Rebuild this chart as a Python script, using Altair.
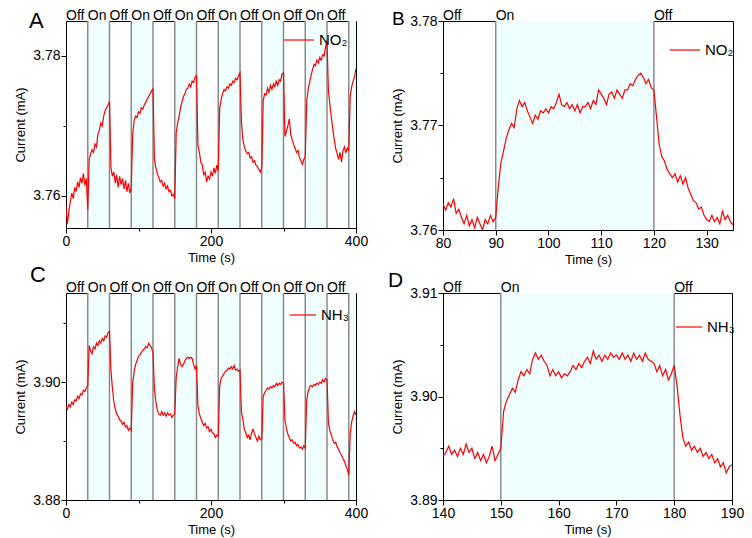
import altair as alt
import pandas as pd
import numpy as np

FONT = "Liberation Sans"
RED = "#ff0000"
SHADE = "#effefe"
GREY = "#8a8a8a"

# ---------------- Panel A: NO2, 0-400 s, every 2 s ----------------
a_off0 = [3.7585, 3.7560, 3.7578, 3.7592, 3.7604, 3.7596, 3.7612, 3.7606, 3.7620, 3.7612, 3.7626, 3.7618, 3.7632, 3.7615, 3.7625]
a_on1 = [3.7580, 3.7652, 3.7660, 3.7666, 3.7662, 3.7674, 3.7670, 3.7688, 3.7694, 3.7704, 3.7700, 3.7714, 3.7722, 3.7726, 3.7730]
a_off1 = [3.7735, 3.7640, 3.7628, 3.7634, 3.7618, 3.7630, 3.7612, 3.7628, 3.7616, 3.7625, 3.7610, 3.7622, 3.7606, 3.7618, 3.7604]
a_on2 = [3.7612, 3.7688, 3.7708, 3.7714, 3.7712, 3.7720, 3.7718, 3.7726, 3.7724, 3.7730, 3.7734, 3.7738, 3.7742, 3.7746, 3.7750]
a_off2 = [3.7753, 3.7652, 3.7640, 3.7632, 3.7626, 3.7620, 3.7622, 3.7614, 3.7618, 3.7610, 3.7614, 3.7606, 3.7608, 3.7600, 3.7602]
a_on3 = [3.7596, 3.7690, 3.7704, 3.7714, 3.7726, 3.7734, 3.7742, 3.7746, 3.7752, 3.7754, 3.7760, 3.7756, 3.7764, 3.7762, 3.7770]
a_off3 = [3.7772, 3.7672, 3.7662, 3.7648, 3.7644, 3.7630, 3.7634, 3.7620, 3.7628, 3.7624, 3.7634, 3.7628, 3.7640, 3.7632, 3.7644]
a_on4 = [3.7636, 3.7725, 3.7738, 3.7746, 3.7752, 3.7750, 3.7756, 3.7754, 3.7760, 3.7758, 3.7764, 3.7762, 3.7768, 3.7766, 3.7772]
a_off4 = [3.7776, 3.7705, 3.7680, 3.7670, 3.7664, 3.7660, 3.7662, 3.7654, 3.7656, 3.7648, 3.7650, 3.7644, 3.7642, 3.7638, 3.7634]
a_on5 = [3.7640, 3.7736, 3.7746, 3.7744, 3.7754, 3.7748, 3.7758, 3.7752, 3.7760, 3.7756, 3.7764, 3.7758, 3.7766, 3.7764, 3.7774]
a_off5 = [3.7776, 3.7685, 3.7692, 3.7700, 3.7710, 3.7688, 3.7680, 3.7674, 3.7668, 3.7662, 3.7665, 3.7655, 3.7650, 3.7645, 3.7652]
a_on6 = [3.7656, 3.7735, 3.7752, 3.7762, 3.7772, 3.7780, 3.7788, 3.7786, 3.7794, 3.7790, 3.7798, 3.7794, 3.7802, 3.7800, 3.7812]
a_off6 = [3.7822, 3.7750, 3.7730, 3.7712, 3.7696, 3.7680, 3.7668, 3.7660, 3.7652, 3.7662, 3.7648, 3.7664, 3.7670, 3.7662, 3.7668]
a_on7 = [3.7664, 3.7742, 3.7756, 3.7764, 3.7770, 3.7782]
no2_long = (a_off0 + a_on1 + a_off1 + a_on2 + a_off2 + a_on3 + a_off3 + a_on4
            + a_off4 + a_on5 + a_off5 + a_on6 + a_off6 + a_on7)
t_long = list(np.arange(0, 401, 2))

# ---------------- Panel C: NH3, 0-400 s, every 2 s ----------------
c_off0 = [3.8958, 3.8954, 3.8962, 3.8958, 3.8966, 3.8962, 3.8970, 3.8968, 3.8976, 3.8972, 3.8980, 3.8978, 3.8986, 3.8984, 3.8990]
c_on1 = [3.8994, 3.9062, 3.9052, 3.9048, 3.9060, 3.9056, 3.9066, 3.9062, 3.9070, 3.9066, 3.9074, 3.9070, 3.9078, 3.9076, 3.9084]
c_off1 = [3.9086, 3.9020, 3.8990, 3.8966, 3.8954, 3.8946, 3.8942, 3.8936, 3.8934, 3.8928, 3.8932, 3.8924, 3.8926, 3.8918, 3.8922]
c_on2 = [3.8918, 3.8998, 3.9018, 3.9030, 3.9036, 3.9044, 3.9046, 3.9050, 3.9054, 3.9056, 3.9060, 3.9058, 3.9066, 3.9062, 3.9058]
c_off2 = [3.9050, 3.8988, 3.8966, 3.8952, 3.8946, 3.8944, 3.8950, 3.8944, 3.8948, 3.8942, 3.8948, 3.8944, 3.8946, 3.8940, 3.8944]
c_on3 = [3.8946, 3.9008, 3.9026, 3.9040, 3.9030, 3.9026, 3.9030, 3.9036, 3.9040, 3.9042, 3.9040, 3.9042, 3.9040, 3.9030, 3.9022]
c_off3 = [3.9028, 3.8960, 3.8946, 3.8938, 3.8932, 3.8926, 3.8930, 3.8922, 3.8924, 3.8916, 3.8920, 3.8914, 3.8912, 3.8906, 3.8910]
c_on4 = [3.8908, 3.8994, 3.9006, 3.9010, 3.9014, 3.9018, 3.9020, 3.9024, 3.9022, 3.9026, 3.9022, 3.9028, 3.9020, 3.9022, 3.9018]
c_off4 = [3.9020, 3.8950, 3.8936, 3.8920, 3.8914, 3.8906, 3.8910, 3.8902, 3.8914, 3.8920, 3.8912, 3.8906, 3.8900, 3.8908, 3.8902]
c_on5 = [3.8904, 3.8976, 3.8982, 3.8986, 3.8990, 3.8988, 3.8992, 3.8990, 3.8994, 3.8992, 3.8998, 3.8994, 3.8998, 3.8996, 3.9000]
c_off5 = [3.8998, 3.8936, 3.8922, 3.8912, 3.8906, 3.8900, 3.8902, 3.8896, 3.8898, 3.8892, 3.8894, 3.8888, 3.8890, 3.8886, 3.8892]
c_on6 = [3.8888, 3.8970, 3.8984, 3.8992, 3.8994, 3.8992, 3.8996, 3.8994, 3.8998, 3.8996, 3.9000, 3.8998, 3.9004, 3.9000, 3.9006]
c_off6 = [3.9004, 3.8930, 3.8918, 3.8910, 3.8902, 3.8896, 3.8898, 3.8890, 3.8886, 3.8880, 3.8876, 3.8870, 3.8866, 3.8858, 3.8852]
c_on7 = [3.8842, 3.8912, 3.8932, 3.8942, 3.8950, 3.8944]
nh3_long = (c_off0 + c_on1 + c_off1 + c_on2 + c_off2 + c_on3 + c_off3 + c_on4
            + c_off4 + c_on5 + c_off5 + c_on6 + c_off6 + c_on7)

# ---------------- Panel B: NO2 zoom, 80-135 s, every 0.5 s ----------------
b_80 = [3.7625, 3.7619, 3.7626, 3.7622, 3.7630, 3.7616, 3.7620, 3.7612, 3.7606, 3.7614,
        3.7604, 3.7610, 3.7602, 3.7612, 3.7606, 3.7600, 3.7610, 3.7606, 3.7614, 3.7608]
b_90 = [3.7612, 3.7642, 3.7665, 3.7676, 3.7688, 3.7696, 3.7702, 3.7698, 3.7716, 3.7724,
        3.7718, 3.7722, 3.7714, 3.7708, 3.7702, 3.7710, 3.7706, 3.7714, 3.7712, 3.7716]
b_100 = [3.7712, 3.7718, 3.7716, 3.7722, 3.7730, 3.7720, 3.7718, 3.7722, 3.7716, 3.7720,
         3.7714, 3.7720, 3.7712, 3.7718, 3.7718, 3.7722, 3.7716, 3.7724, 3.7720, 3.7734]
b_110 = [3.7730, 3.7726, 3.7720, 3.7730, 3.7732, 3.7726, 3.7734, 3.7730, 3.7726, 3.7734,
         3.7734, 3.7740, 3.7738, 3.7744, 3.7748, 3.7750, 3.7746, 3.7740, 3.7744, 3.7736]
b_120 = [3.7734, 3.7708, 3.7682, 3.7670, 3.7666, 3.7658, 3.7654, 3.7650, 3.7654, 3.7646,
         3.7652, 3.7644, 3.7650, 3.7640, 3.7634, 3.7628, 3.7626, 3.7620, 3.7622, 3.7614]
b_130 = [3.7610, 3.7608, 3.7614, 3.7608, 3.7612, 3.7606, 3.7618, 3.7610, 3.7614, 3.7608, 3.7605]
no2_zoom = b_80 + b_90 + b_100 + b_110 + b_120 + b_130
t_b = list(np.arange(80, 135.01, 0.5))

# ---------------- Panel D: NH3 zoom, 140-190 s, every 0.5 s ----------------
d_140 = [3.8942, 3.8946, 3.8952, 3.8944, 3.8948, 3.8942, 3.8950, 3.8944, 3.8954, 3.8946,
         3.8950, 3.8940, 3.8946, 3.8938, 3.8944, 3.8936, 3.8942, 3.8952, 3.8938, 3.8944]
d_150 = [3.8950, 3.8986, 3.8996, 3.9002, 3.9008, 3.9004, 3.9016, 3.9024, 3.9020, 3.9026,
         3.9022, 3.9036, 3.9042, 3.9036, 3.9040, 3.9034, 3.9030, 3.9020, 3.9026, 3.9020]
d_160 = [3.9024, 3.9018, 3.9022, 3.9020, 3.9024, 3.9030, 3.9026, 3.9032, 3.9028, 3.9034,
         3.9038, 3.9032, 3.9044, 3.9036, 3.9040, 3.9034, 3.9040, 3.9036, 3.9042, 3.9038]
d_170 = [3.9040, 3.9036, 3.9042, 3.9036, 3.9040, 3.9034, 3.9042, 3.9036, 3.9040, 3.9034,
         3.9042, 3.9036, 3.9034, 3.9032, 3.9024, 3.9030, 3.9020, 3.9026, 3.9016, 3.9022]
d_180 = [3.9030, 3.9010, 3.8982, 3.8960, 3.8952, 3.8956, 3.8948, 3.8952, 3.8946, 3.8950,
         3.8942, 3.8946, 3.8940, 3.8944, 3.8936, 3.8940, 3.8932, 3.8936, 3.8926, 3.8932, 3.8934]
nh3_zoom = d_140 + d_150 + d_160 + d_170 + d_180
t_d = list(np.arange(140, 190.01, 0.5))

# ---------------- gas switching annotations ----------------
long_label_t = [0, 30, 60, 90, 120, 150, 180, 210, 240, 270, 300, 330, 360]
long_labels = ["Off", "On", "Off", "On", "Off", "On", "Off", "On", "Off", "On", "Off", "On", "Off"]
long_on_start = [30, 90, 150, 210, 270, 330, 390]
long_on_end = [60, 120, 180, 240, 300, 360, 400]
long_switch = [30, 60, 90, 120, 150, 180, 210, 240, 270, 300, 330, 360, 390]

b_label_t = [80, 90, 120]
d_label_t = [140, 150, 180]
zoom_labels = ["Off", "On", "Off"]


def panel(t, vals, gas, xdom, ydom, xticks, xlab_test, yticks, ylab_test,
          on_start, on_end, switches, lab_t, labs, letter, letter_size,
          letter_xy, legend_xy, legend_len, w, h):
    df = pd.DataFrame({"t": t, "v": vals, "gas": gas})
    shade = pd.DataFrame({"t": on_start, "t2": on_end})
    rules = pd.DataFrame({"t": switches})
    labdf = pd.DataFrame({"t": lab_t, "lab": labs})

    xscale = alt.Scale(domain=xdom, nice=False, zero=False)
    yscale = alt.Scale(domain=ydom, nice=False, zero=False)
    xaxis = alt.Axis(
        values=xticks, title="Time (s)",
        labelExpr=f"({xlab_test}) ? datum.label : ''",
        tickSize={"condition": {"test": f"!({xlab_test})", "value": 3}, "value": 5},
    )
    yaxis = alt.Axis(
        values=yticks, title="Current (mA)",
        labelExpr=f"({ylab_test}) ? format(datum.value, '.2f') : ''",
        tickSize={"condition": {"test": f"!({ylab_test})", "value": 3}, "value": 5},
    )

    shade_l = alt.Chart(shade).mark_rect(color=SHADE).encode(
        x=alt.X("t:Q", scale=xscale, axis=xaxis),
        x2="t2:Q",
        y=alt.value(0), y2=alt.value(h),
    )
    rule_l = alt.Chart(rules).mark_rule(color=GREY, strokeWidth=1.5).encode(
        x=alt.X("t:Q", scale=xscale),
    )
    line_l = alt.Chart(df).mark_line(strokeWidth=1.2, clip=True).encode(
        x=alt.X("t:Q", scale=xscale),
        y=alt.Y("v:Q", scale=yscale, axis=yaxis),
        color=alt.Color(
            "gas:N",
            scale=alt.Scale(domain=[gas], range=[RED]),
            legend=alt.Legend(
                title=None, orient="none", legendX=legend_xy[0], legendY=legend_xy[1],
                symbolType="stroke", symbolSize=legend_len * legend_len,
                symbolStrokeWidth=1.2, labelFontSize=15, labelFont=FONT,
                labelColor="black", padding=0, labelOffset=4,
            ),
        ),
    )
    text_l = alt.Chart(labdf).mark_text(
        align="left", baseline="alphabetic", fontSize=14, font=FONT, color="black"
    ).encode(
        x=alt.X("t:Q", scale=xscale),
        y=alt.value(-1),
        text="lab:N",
    )
    letter_l = alt.Chart(pd.DataFrame({"l": [letter]})).mark_text(
        align="left", baseline="alphabetic", fontSize=letter_size, font=FONT, color="black"
    ).encode(
        x=alt.value(letter_xy[0]), y=alt.value(letter_xy[1]), text="l:N",
    )
    return alt.layer(shade_l, rule_l, line_l, text_l, letter_l).properties(width=w, height=h)


pA = panel(t_long, no2_long, "NO₂", [0, 400], [3.7554, 3.785],
           [0, 100, 200, 300, 400], "datum.value % 200 == 0",
           [3.76, 3.77, 3.78], "abs(datum.value - 3.77) > 0.001",
           long_on_start, long_on_end, long_switch, long_label_t, long_labels,
           "A", 22, (-37, 7), (217, 3), 30, 290, 207)
pB = panel(t_b, no2_zoom, "NO₂", [80, 135], [3.76, 3.78],
           list(range(80, 136, 5)), "datum.value % 10 == 0",
           [3.76, 3.765, 3.77, 3.775, 3.78],
           "abs(datum.value*100 - round(datum.value*100)) < 0.01",
           [90], [120], [90, 120], b_label_t, zoom_labels,
           "B", 19, (-51, 4), (226, 13), 30, 290, 209)
pC = panel(t_long, nh3_long, "NH₃", [0, 400], [3.88, 3.9151],
           [0, 100, 200, 300, 400], "datum.value % 200 == 0",
           [3.88, 3.89, 3.90, 3.91],
           "abs(datum.value - 3.89) > 0.001 && abs(datum.value - 3.91) > 0.001",
           long_on_start, long_on_end, long_switch, long_label_t, long_labels,
           "C", 22, (-36, -11), (223, 8), 26, 290, 207)
pD = panel(t_d, nh3_zoom, "NH₃", [140, 190], [3.89, 3.91],
           list(range(140, 191, 5)), "datum.value % 10 == 0",
           [3.89, 3.895, 3.90, 3.905, 3.91],
           "abs(datum.value*100 - round(datum.value*100)) < 0.01",
           [150], [180], [150, 180], d_label_t, zoom_labels,
           "D", 21, (-55, -6), (232, 20), 26, 289, 207)

chart = alt.concat(
    pA, pB, pC, pD, columns=2, spacing={"row": 63, "column": 87}, bounds="flush"
).resolve_scale(color="independent").properties(
    autosize=alt.AutoSizeParams(type="none"),
    padding={"left": 66, "top": 21, "right": 686, "bottom": 517},
).configure_view(
    stroke="black", strokeWidth=1
).configure_axis(
    labelFont=FONT, titleFont=FONT, labelFontSize=14, titleFontSize=13,
    titleFontWeight="normal", labelColor="black", titleColor="black",
    domainColor="black", tickColor="black", grid=False, labelPadding=1,
    labelFlush=False,
).configure_axisY(
    titlePadding=5,
).configure_axisX(
    titlePadding=3,
)

chart.save("out.html", embed_options={"renderer": "svg", "actions": False})
